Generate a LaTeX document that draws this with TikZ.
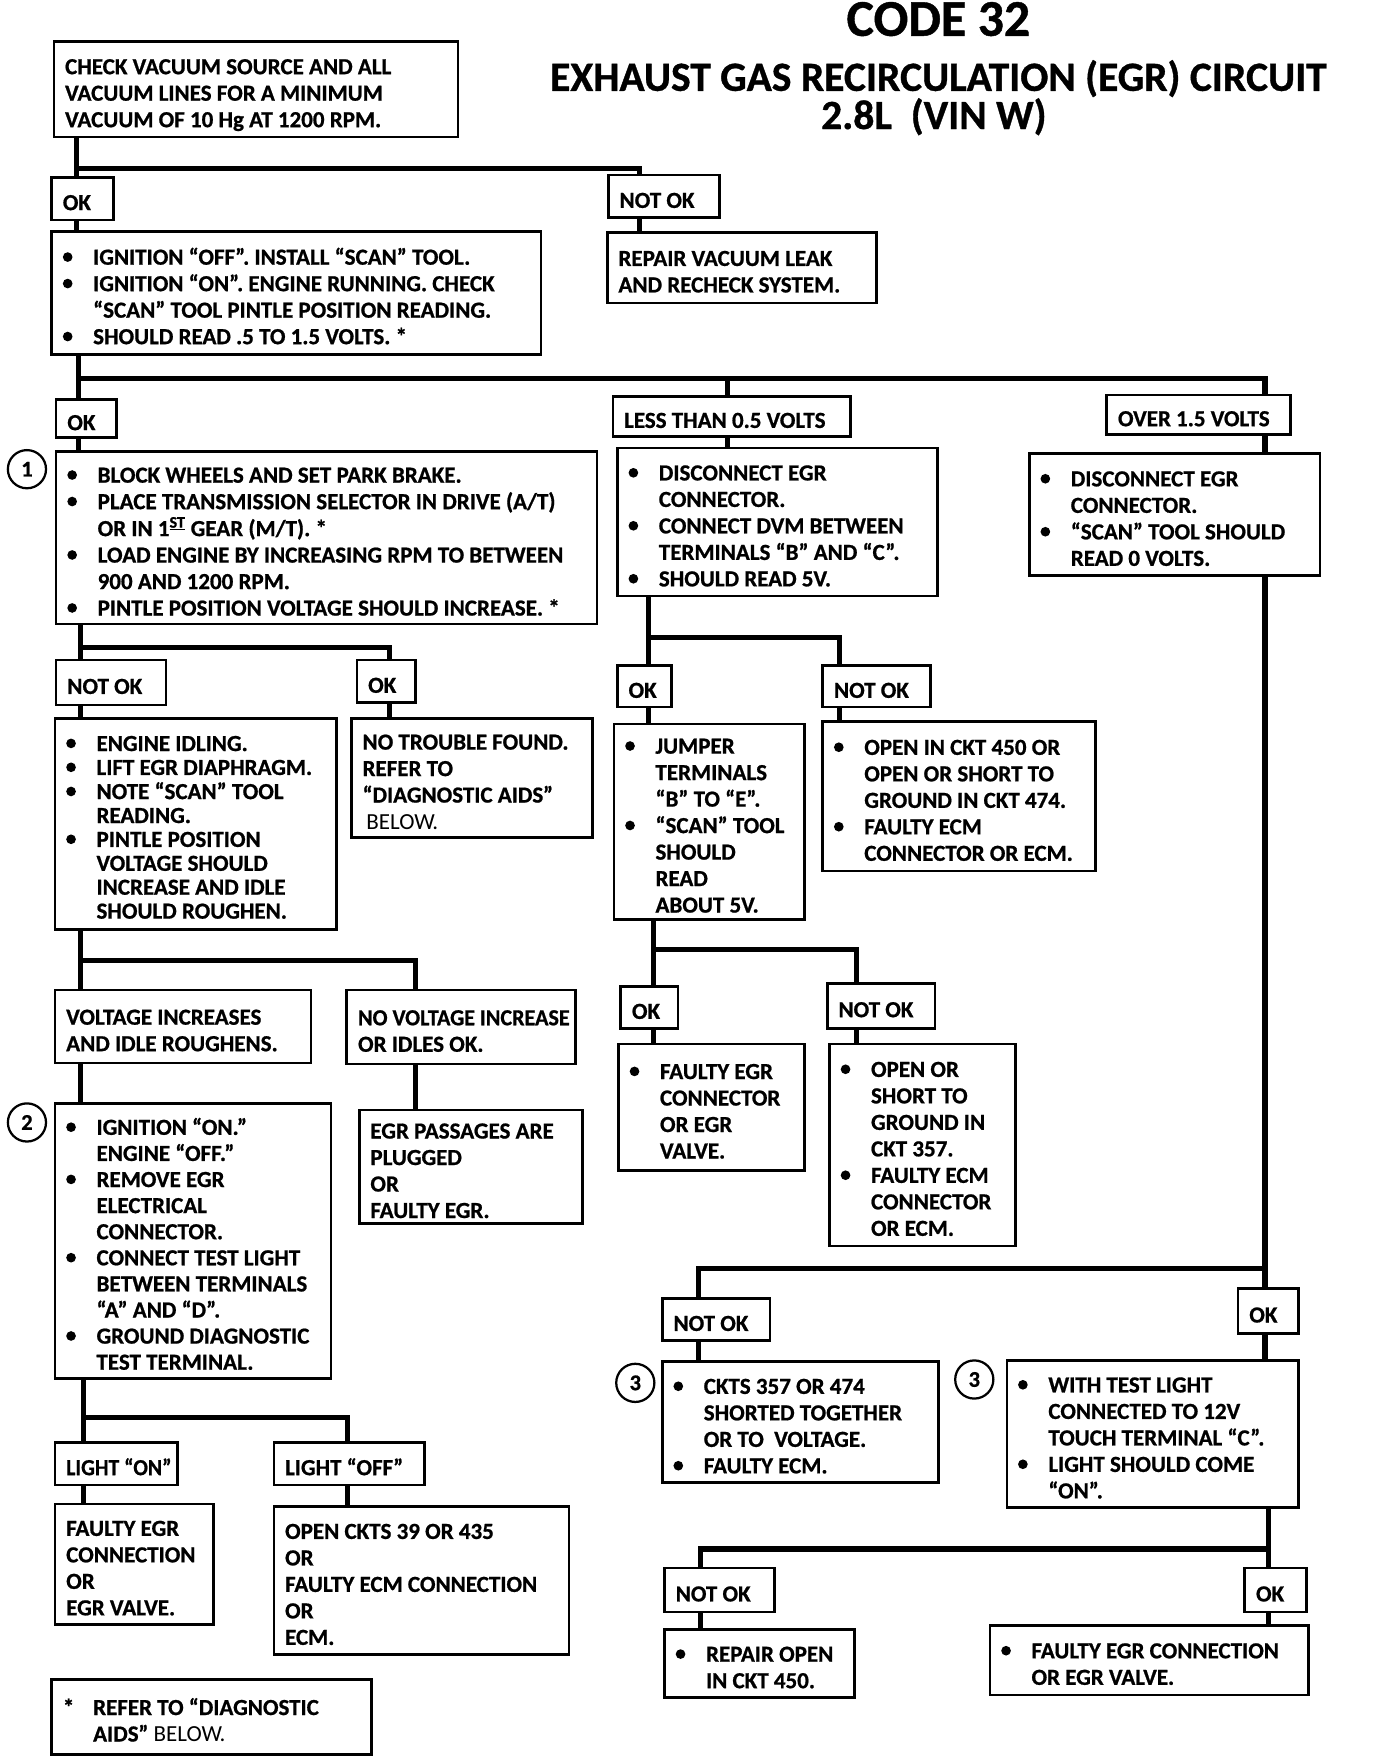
\documentclass[tikz,border=0pt]{standalone}
\usepackage{fontspec}
\usepackage{graphicx}
\setmainfont{Carlito}[BoldFeatures={FakeBold=0.8}]
\usetikzlibrary{calc}
\newcommand\BU{\tikz[baseline=-6.8pt]\fill (0pt,0pt) circle[radius=4.3pt];}
\newcommand\HS[2]{\scalebox{#1}[1]{#2}}
\newcommand\TL[1]{\begin{tabular}{@{}l@{}}#1\end{tabular}}
\newcommand\TB[1]{\begin{tabular}{@{}p{27pt}@{}l@{}}#1\end{tabular}}
\newcommand\bx[6]{\node[box,minimum width={(#4-#2)*1pt},minimum height={(#5-#3)*1pt}] (#1) at ({(#2+#4)/2},{(#3+#5)/2}) {\raisebox{-5.5pt}[\height][\depth]{\makebox[\dimexpr#4pt-#2pt-20pt\relax][l]{#6}}};}
\begin{document}
\begin{tikzpicture}[x=1pt,y=-1pt,
  box/.style={draw,rectangle,line width=2.4pt,inner xsep=10pt,inner ysep=0pt,font=\fontsize{20.5}{23.6}\selectfont\bfseries},
  conn/.style={line width=4.5pt},
  circ/.style={draw,circle,line width=2pt,minimum size=34pt,inner sep=0pt,font=\fontsize{20}{20}\selectfont\bfseries},
  ttl/.style={font=\bfseries,inner sep=0pt}]
\useasboundingbox (0,0) rectangle (1240,1568);
% titles
\node[ttl,font=\fontsize{46}{46}\selectfont\bfseries] (t1) at (836,17) {CODE 32};
\node[ttl,font=\fontsize{37}{37}\selectfont\bfseries] (t2) at (836,70) {EXHAUST GAS RECIRCULATION (EGR) CIRCUIT};
\node[ttl,font=\fontsize{37}{37}\selectfont\bfseries] (t3) at (832,104) {2.8L\ \ (VIN W)};
% boxes
\bx{A}{48}{37}{408}{122}{\TL{CHECK VACUUM SOURCE AND ALL\\VACUUM LINES FOR A MINIMUM\\VACUUM OF 10 Hg AT 1200 RPM.}}
\bx{ok1}{46}{158}{101}{196}{\TL{OK}}
\bx{nok1}{542}{156}{641}{194}{\TL{NOT OK}}
\bx{B}{46}{206}{482}{316}{\TB{\BU & IGNITION “OFF”. INSTALL “SCAN” TOOL.\\ \BU & IGNITION “ON”. ENGINE RUNNING. CHECK\\ & “SCAN” TOOL PINTLE POSITION READING.\\ \BU & SHOULD READ .5 TO 1.5 VOLTS. *}}
\bx{rep}{541}{207}{781}{270}{\TL{REPAIR VACUUM LEAK\\AND RECHECK SYSTEM.}}
\bx{ok2}{50}{356}{104}{390}{\TL{OK}}
\bx{less}{546}{353}{758}{389}{\TL{LESS THAN 0.5 VOLTS}}
\bx{over}{986}{352}{1150}{387}{\TL{OVER 1.5 VOLTS}}
\bx{b1}{50}{402}{532}{556}{\TB{\BU & BLOCK WHEELS AND SET PARK BRAKE.\\ \BU & PLACE TRANSMISSION SELECTOR IN DRIVE (A/T)\\ & OR IN 1\textsuperscript{\underline{ST}} GEAR (M/T). *\\ \BU & LOAD ENGINE BY INCREASING RPM TO BETWEEN\\ & 900 AND 1200 RPM.\\ \BU & PINTLE POSITION VOLTAGE SHOULD INCREASE. *}}
\bx{lessb}{550}{399}{835}{531}{\TB{\BU & DISCONNECT EGR\\ & CONNECTOR.\\ \BU & CONNECT DVM BETWEEN\\ & TERMINALS “B” AND “C”.\\ \BU & SHOULD READ 5V.}}
\bx{overb}{917}{404}{1176}{513}{\TB{\BU & DISCONNECT EGR\\ & CONNECTOR.\\ \BU & “SCAN” TOOL SHOULD\\ & READ 0 VOLTS.}}
\bx{nok3}{50}{588}{148}{628}{\TL{NOT OK}}
\bx{ok3}{318}{588}{370}{626}{\TL{OK}}
\bx{nokc}{49}{640}{300}{828}{\fontsize{20.5}{21.3}\selectfont\TB{\BU & ENGINE IDLING.\\ \BU & LIFT EGR DIAPHRAGM.\\ \BU & NOTE “SCAN” TOOL\\ & READING.\\ \BU & PINTLE POSITION\\ & VOLTAGE SHOULD\\ & INCREASE AND IDLE\\ & SHOULD ROUGHEN.}}
\bx{okc}{313}{640}{528}{746}{\TL{NO TROUBLE FOUND.\\REFER TO\\“DIAGNOSTIC AIDS”\\ \mdseries\,BELOW.}}
\bx{ok4}{550}{593}{598}{630}{\TL{OK}}
\bx{nok4}{733}{593}{829}{630}{\TL{NOT OK}}
\bx{jump}{547}{645}{717}{819}{\TB{\BU & JUMPER\\ & TERMINALS\\ & “B” TO “E”.\\ \BU & “SCAN” TOOL\\ & SHOULD\\ & READ\\ & ABOUT 5V.}}
\bx{open450}{733}{643}{976}{776}{\TB{\BU & OPEN IN CKT 450 OR\\ & OPEN OR SHORT TO\\ & GROUND IN CKT 474.\\ \BU & FAULTY ECM\\ & CONNECTOR OR ECM.}}
\bx{volt}{49}{882}{277}{947}{\TL{VOLTAGE INCREASES\\AND IDLE ROUGHENS.}}
\bx{novolt}{309}{882}{513}{948}{\TL{\HS{0.96}{NO VOLTAGE INCREASE}\\OR IDLES OK.}}
\bx{ok6}{553}{879}{604}{916}{\TL{OK}}
\bx{nok6}{737}{876}{833}{916}{\TL{NOT OK}}
\bx{fconn}{551}{930}{717}{1043}{\TB{\BU & FAULTY EGR\\ & CONNECTOR\\ & OR EGR\\ & VALVE.}}
\bx{oshort}{739}{930}{905}{1110}{\TB{\BU & OPEN OR\\ & SHORT TO\\ & GROUND IN\\ & CKT 357.\\ \BU & FAULTY ECM\\ & CONNECTOR\\ & OR ECM.}}
\bx{b2}{49}{983}{295}{1228}{\fontsize{20.5}{23.25}\selectfont\TB{\BU & IGNITION “ON.”\\ & ENGINE “OFF.”\\ \BU & REMOVE EGR\\ & ELECTRICAL\\ & CONNECTOR.\\ \BU & CONNECT TEST LIGHT\\ & BETWEEN TERMINALS\\ & “A” AND “D”.\\ \BU & GROUND DIAGNOSTIC\\ & TEST TERMINAL.}}
\bx{egrp}{320}{989}{519}{1090}{\TL{EGR PASSAGES ARE\\PLUGGED\\OR\\FAULTY EGR.}}
\bx{lon}{49}{1285}{158}{1323}{\TL{\HS{0.94}{LIGHT “ON”}}}
\bx{loff}{244}{1285}{378}{1323}{\TL{LIGHT “OFF”}}
\bx{fegr}{49}{1340}{190}{1447}{\TL{FAULTY EGR\\CONNECTION\\OR\\EGR VALVE.}}
\bx{ocks}{244}{1342}{507}{1474}{\TL{OPEN CKTS 39 OR 435\\OR\\FAULTY ECM CONNECTION\\OR\\ECM.}}
\bx{foot}{46}{1496}{331}{1563}{\TB{* & REFER TO “DIAGNOSTIC\\ & AIDS” {\mdseries BELOW.}}}
\bx{nok8}{590}{1157}{686}{1194}{\TL{NOT OK}}
\bx{ok8}{1103}{1148}{1157}{1188}{\TL{OK}}
\bx{ckts}{590}{1213}{836}{1321}{\TB{\BU & CKTS 357 OR 474\\ & SHORTED TOGETHER\\ & OR TO\ \ VOLTAGE.\\ \BU & FAULTY ECM.}}
\bx{wtest}{897}{1212}{1157}{1343}{\TB{\BU & WITH TEST LIGHT\\ & CONNECTED TO 12V\\ & TOUCH TERMINAL “C”.\\ \BU & LIGHT SHOULD COME\\ & “ON”.}}
\bx{nok9}{592}{1397}{690}{1436}{\TL{NOT OK}}
\bx{ok9}{1109}{1397}{1164}{1436}{\TL{OK}}
\bx{rep450}{592}{1452}{761}{1512}{\TB{\BU & REPAIR OPEN\\ & IN CKT 450.}}
\bx{fconn2}{882}{1448}{1166}{1510}{\TB{\BU & FAULTY EGR CONNECTION\\ & OR EGR VALVE.}}
% circles
\node[circ] (c1) at (24,418) {1};
\node[circ] (c2) at (24,1000) {2};
\node[circ] (c3a) at (566,1232) {3};
\node[circ] (c3b) at (868,1229) {3};
% connectors
\coordinate (s1a) at (68,150); \coordinate (s1b) at (570,150);
\draw[conn] (A.south -| s1a) -- (s1a) -- (s1b) -- (nok1.north -| s1b);
\draw[conn] (s1a) -- (ok1.north -| s1a);
\draw[conn] (ok1.south -| s1a) -- (B.north -| s1a);
\draw[conn] (nok1.south -| s1b) -- (rep.north -| s1b);
\coordinate (s2a) at (70,337); \coordinate (s2b) at (648,337); \coordinate (s2c) at (1127,337);
\draw[conn] (B.south -| s2a) -- (s2a) -- (s2c) -- (over.north -| s2c);
\draw[conn] (s2a) -- (ok2.north -| s2a);
\draw[conn] (s2b) -- (less.north -| s2b);
\draw[conn] (ok2.south -| s2a) -- (b1.north -| s2a);
\draw[conn] (less.south -| s2b) -- (lessb.north -| s2b);
\draw[conn] (over.south -| s2c) -- (overb.north -| s2c);
\coordinate (s3a) at (72,577); \coordinate (s3b) at (347,577);
\draw[conn] (b1.south -| s3a) -- (s3a) -- (s3b) -- (ok3.north -| s3b);
\draw[conn] (s3a) -- (nok3.north -| s3a);
\draw[conn] (nok3.south -| s3a) -- (nokc.north -| s3a);
\draw[conn] (ok3.south -| s3b) -- (okc.north -| s3b);
\coordinate (s4a) at (578,568); \coordinate (s4b) at (748,568);
\draw[conn] (lessb.south -| s4a) -- (s4a) -- (s4b) -- (nok4.north -| s4b);
\draw[conn] (s4a) -- (ok4.north -| s4a);
\draw[conn] (ok4.south -| s4a) -- (jump.north -| s4a);
\draw[conn] (nok4.south -| s4b) -- (open450.north -| s4b);
\coordinate (s5a) at (72,856); \coordinate (s5b) at (370,856);
\draw[conn] (nokc.south -| s5a) -- (s5a) -- (s5b) -- (novolt.north -| s5b);
\draw[conn] (s5a) -- (volt.north -| s5a);
\draw[conn] (volt.south -| s5a) -- (b2.north -| s5a);
\draw[conn] (novolt.south -| s5b) -- (egrp.north -| s5b);
\coordinate (s6a) at (582,846); \coordinate (s6b) at (763,846);
\draw[conn] (jump.south -| s6a) -- (s6a) -- (s6b) -- (nok6.north -| s6b);
\draw[conn] (s6a) -- (ok6.north -| s6a);
\draw[conn] (ok6.south -| s6a) -- (fconn.north -| s6a);
\draw[conn] (nok6.south -| s6b) -- (oshort.north -| s6b);
\coordinate (s7a) at (74,1263); \coordinate (s7b) at (310,1263);
\draw[conn] (b2.south -| s7a) -- (s7a) -- (s7b) -- (loff.north -| s7b);
\draw[conn] (s7a) -- (lon.north -| s7a);
\draw[conn] (lon.south -| s7a) -- (fegr.north -| s7a);
\draw[conn] (loff.south -| s7b) -- (ocks.north -| s7b);
\coordinate (s8a) at (622,1130); \coordinate (s8b) at (1127,1130);
\draw[conn] (overb.south -| s8b) -- (s8b) -- (s8a) -- (nok8.north -| s8a);
\draw[conn] (s8b) -- (ok8.north -| s8b);
\draw[conn] (nok8.south -| s8a) -- (ckts.north -| s8a);
\draw[conn] (ok8.south -| s8b) -- (wtest.north -| s8b);
\coordinate (s9a) at (624,1380); \coordinate (s9b) at (1130,1380);
\draw[conn] (wtest.south -| s9b) -- (s9b) -- (s9a) -- (nok9.north -| s9a);
\draw[conn] (s9b) -- (ok9.north -| s9b);
\draw[conn] (nok9.south -| s9a) -- (rep450.north -| s9a);
\draw[conn] (ok9.south -| s9b) -- (fconn2.north -| s9b);
\end{tikzpicture}
\end{document}
